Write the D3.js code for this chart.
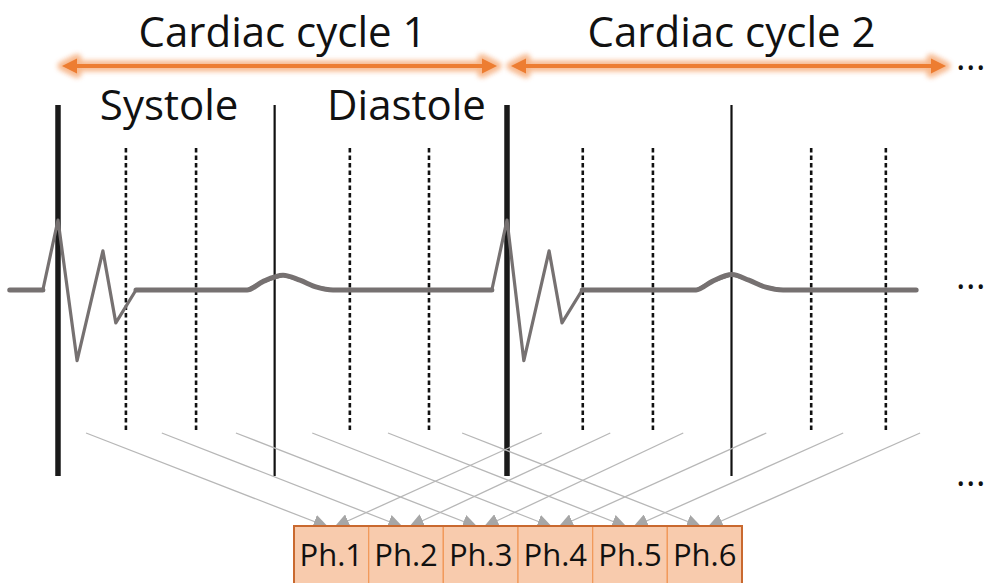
<!doctype html>
<html lang="en">
<head>
<meta charset="utf-8">
<title>Cardiac cycle phases</title>
<script src="https://d3js.org/d3.v7.min.js"></script>
<style>
    body { margin: 0; background: #fff; }
    svg { display: block; font-family: "Open Sans", sans-serif; }
</style>
</head>
<body>
<script>
    // all times in ms from the first R peak
    const cycleNames = ["Cardiac cycle 1", "Cardiac cycle 2"]
    const cycleStarts = [0, 800]
    const cycleEnd = 1600
    const systoleEnds = [386, 1200]
    const phaseDividers = [121, 246, 520, 661, 935, 1060, 1342, 1475]
    const cycle1Labels = ["Systole", "Diastole"]
    const cycle1LabelTimes = [198, 621]

    // ECG trace, amplitude relative to R peak
    const ecgTime = [-86, -27, 0, 34, 80, 103, 139, 337, 365, 401, 431, 461, 490,
        773, 800, 830, 875, 898, 934, 1137, 1165, 1201, 1231, 1261, 1292, 1529]
    const ecgVolt = [0, 0, 1.0, -1.01, 0.56, -0.47, 0, 0, 0.12, 0.21, 0.14, 0.04, 0,
        0, 1.0, -1.01, 0.56, -0.47, 0, 0, 0.12, 0.22, 0.14, 0.04, 0, 0]

    const phases = ["Ph.1", "Ph.2", "Ph.3", "Ph.4", "Ph.5", "Ph.6"]
    // where the mapping arrows leave each cycle
    const cycle1ArrowStarts = [50, 185, 317, 453, 588, 720]
    const cycle2ArrowStarts = [862, 984, 1114, 1262, 1399, 1536]

    const width = 985
    const height = 583

    const x = d3.scaleLinear().domain([0, cycleEnd]).range([58, 956])
    const y = d3.scaleLinear().domain([-1, 1]).range([360, 220])
    const band = d3.scaleBand().domain(phases).range([294, 742])

    const svg = d3.select("body").append("svg")
        .attr("width", width)
        .attr("height", height)
        .attr("viewBox", [0, 0, width, height])

    const defs = svg.append("defs")
    defs.append("filter")
        .attr("id", "glow")
        .attr("x", "-10%").attr("y", "-200%")
        .attr("width", "120%").attr("height", "500%")
        .append("feGaussianBlur")
        .attr("stdDeviation", 2.6)

    defs.append("marker")
        .attr("id", "head")
        .attr("viewBox", "0 0 15 14")
        .attr("refX", 15).attr("refY", 7)
        .attr("markerWidth", 15).attr("markerHeight", 14)
        .attr("markerUnits", "userSpaceOnUse")
        .attr("orient", "auto")
        .append("path")
        .attr("d", "M0,0L15,7L0,14Z")
        .attr("fill", "#a6a6a6")

    // cycle span arrows (orange, glowing)
    const arrowY = 66
    const headLen = 15, headHalf = 7.5
    const spans = cycleStarts.map((s, i) => {
        const e = i + 1 < cycleStarts.length ? cycleStarts[i + 1] : cycleEnd
        return { name: cycleNames[i], x1: x(s) + 4, x2: x(e) - 10, mid: x((s + e) / 2) }
    })

    function doubleArrow(g, d) {
        g.append("line")
            .attr("x1", d.x1 + headLen - 1).attr("x2", d.x2 - headLen + 1)
            .attr("y1", arrowY).attr("y2", arrowY)
        g.append("path")
            .attr("d", `M${d.x1},${arrowY}L${d.x1 + headLen},${arrowY - headHalf}L${d.x1 + headLen},${arrowY + headHalf}Z`)
        g.append("path")
            .attr("d", `M${d.x2},${arrowY}L${d.x2 - headLen},${arrowY - headHalf}L${d.x2 - headLen},${arrowY + headHalf}Z`)
    }

    const glow = svg.append("g")
        .attr("filter", "url(#glow)")
        .attr("stroke", "#f6ad7b")
        .attr("fill", "#f6ad7b")
        .attr("stroke-linejoin", "round")
        .attr("opacity", 0.85)
    spans.forEach(d => {
        const g = glow.append("g")
        doubleArrow(g, d)
        g.selectAll("line").attr("stroke-width", 11)
        g.selectAll("path").attr("stroke-width", 9)
    })

    const crisp = svg.append("g")
        .attr("stroke", "#ed7d31")
        .attr("fill", "#ed7d31")
    spans.forEach(d => {
        const g = crisp.append("g")
        doubleArrow(g, d)
        g.selectAll("line").attr("stroke-width", 4)
        g.selectAll("path").attr("stroke", "none")
    })

    svg.append("g")
        .attr("font-size", 42)
        .attr("text-anchor", "middle")
        .attr("fill", "#111")
        .selectAll("text")
        .data(spans)
        .join("text")
        .attr("x", d => d.mid)
        .attr("y", 47)
        .text(d => d.name)

    svg.append("g")
        .attr("font-size", 42)
        .attr("text-anchor", "middle")
        .attr("fill", "#111")
        .selectAll("text")
        .data(cycle1Labels)
        .join("text")
        .attr("x", (d, i) => x(cycle1LabelTimes[i]))
        .attr("y", 120)
        .text(d => d)

    // vertical markers
    const solidTop = 105, solidBottom = 476
    const dashTop = 148, dashBottom = 432

    svg.append("g")
        .selectAll("line")
        .data(phaseDividers)
        .join("line")
        .attr("x1", d => x(d)).attr("x2", d => x(d))
        .attr("y1", dashTop).attr("y2", dashBottom)
        .attr("stroke", "#111")
        .attr("stroke-width", 2.6)
        .attr("stroke-dasharray", "4.5,3")

    svg.append("g")
        .selectAll("line")
        .data(systoleEnds)
        .join("line")
        .attr("x1", d => x(d)).attr("x2", d => x(d))
        .attr("y1", solidTop).attr("y2", solidBottom)
        .attr("stroke", "#111")
        .attr("stroke-width", 2.2)

    svg.append("g")
        .selectAll("line")
        .data(cycleStarts)
        .join("line")
        .attr("x1", d => x(d)).attr("x2", d => x(d))
        .attr("y1", solidTop).attr("y2", solidBottom)
        .attr("stroke", "#1a1a1a")
        .attr("stroke-width", 5.5)

    // ECG trace: thin through the QRS complexes, thicker on the flat/T parts
    const ecg = ecgTime.map((t, i) => ({ t, v: ecgVolt[i] }))
    const ecgColor = "#767171"

    svg.append("path")
        .datum(ecg)
        .attr("fill", "none")
        .attr("stroke", ecgColor)
        .attr("stroke-width", 3.2)
        .attr("stroke-linejoin", "round")
        .attr("d", d3.line().x(d => x(d.t)).y(d => y(d.v)))

    let runs = [], run = []
    for (const p of ecg) {
        if (Math.abs(p.v) <= 0.25) run.push(p)
        else { if (run.length > 1) runs.push(run); run = [] }
    }
    if (run.length > 1) runs.push(run)

    svg.append("g")
        .selectAll("path")
        .data(runs)
        .join("path")
        .attr("fill", "none")
        .attr("stroke", ecgColor)
        .attr("stroke-width", 5)
        .attr("stroke-linecap", "round")
        .attr("d", d3.line().curve(d3.curveMonotoneX).x(d => x(d.t)).y(d => y(d.v)))

    // mapping arrows from each cycle segment to its phase bin
    const arrowTop = 433, boxTop = 526
    const mapArrows = []
    cycle1ArrowStarts.forEach((t, i) => mapArrows.push({ t, phase: phases[i], side: -1 }))
    cycle2ArrowStarts.forEach((t, i) => mapArrows.push({ t, phase: phases[i], side: 1 }))

    svg.append("g")
        .selectAll("line")
        .data(mapArrows)
        .join("line")
        .attr("x1", d => x(d.t))
        .attr("y1", arrowTop)
        .attr("x2", d => band(d.phase) + band.bandwidth() / 2 + d.side * 3)
        .attr("y2", boxTop + 1)
        .attr("stroke", "#b7b7b7")
        .attr("stroke-width", 1.3)
        .attr("marker-end", "url(#head)")

    // phase bins
    const bins = svg.append("g")
    bins.selectAll("rect")
        .data(phases)
        .join("rect")
        .attr("x", d => band(d))
        .attr("y", boxTop)
        .attr("width", band.bandwidth())
        .attr("height", 80)
        .attr("fill", "#f8cbad")
        .attr("stroke", "#f19a5c")
        .attr("stroke-width", 1.3)
    bins.append("rect")
        .attr("x", band.range()[0])
        .attr("y", boxTop)
        .attr("width", band.range()[1] - band.range()[0])
        .attr("height", 80)
        .attr("fill", "none")
        .attr("stroke", "#c9692f")
        .attr("stroke-width", 2)
    bins.selectAll("text")
        .data(phases)
        .join("text")
        .attr("x", d => band(d) + band.bandwidth() / 2)
        .attr("y", 566)
        .attr("text-anchor", "middle")
        .attr("font-size", 31)
        .attr("fill", "#111")
        .text(d => d)

    // continuation dots
    svg.append("g")
        .attr("font-size", 36)
        .attr("letter-spacing", 0.5)
        .attr("fill", "#111")
        .selectAll("text")
        .data([arrowY + 4, y(0) - 1, 486])
        .join("text")
        .attr("x", 956)
        .attr("y", d => d)
        .text("...")
</script>
</body>
</html>
